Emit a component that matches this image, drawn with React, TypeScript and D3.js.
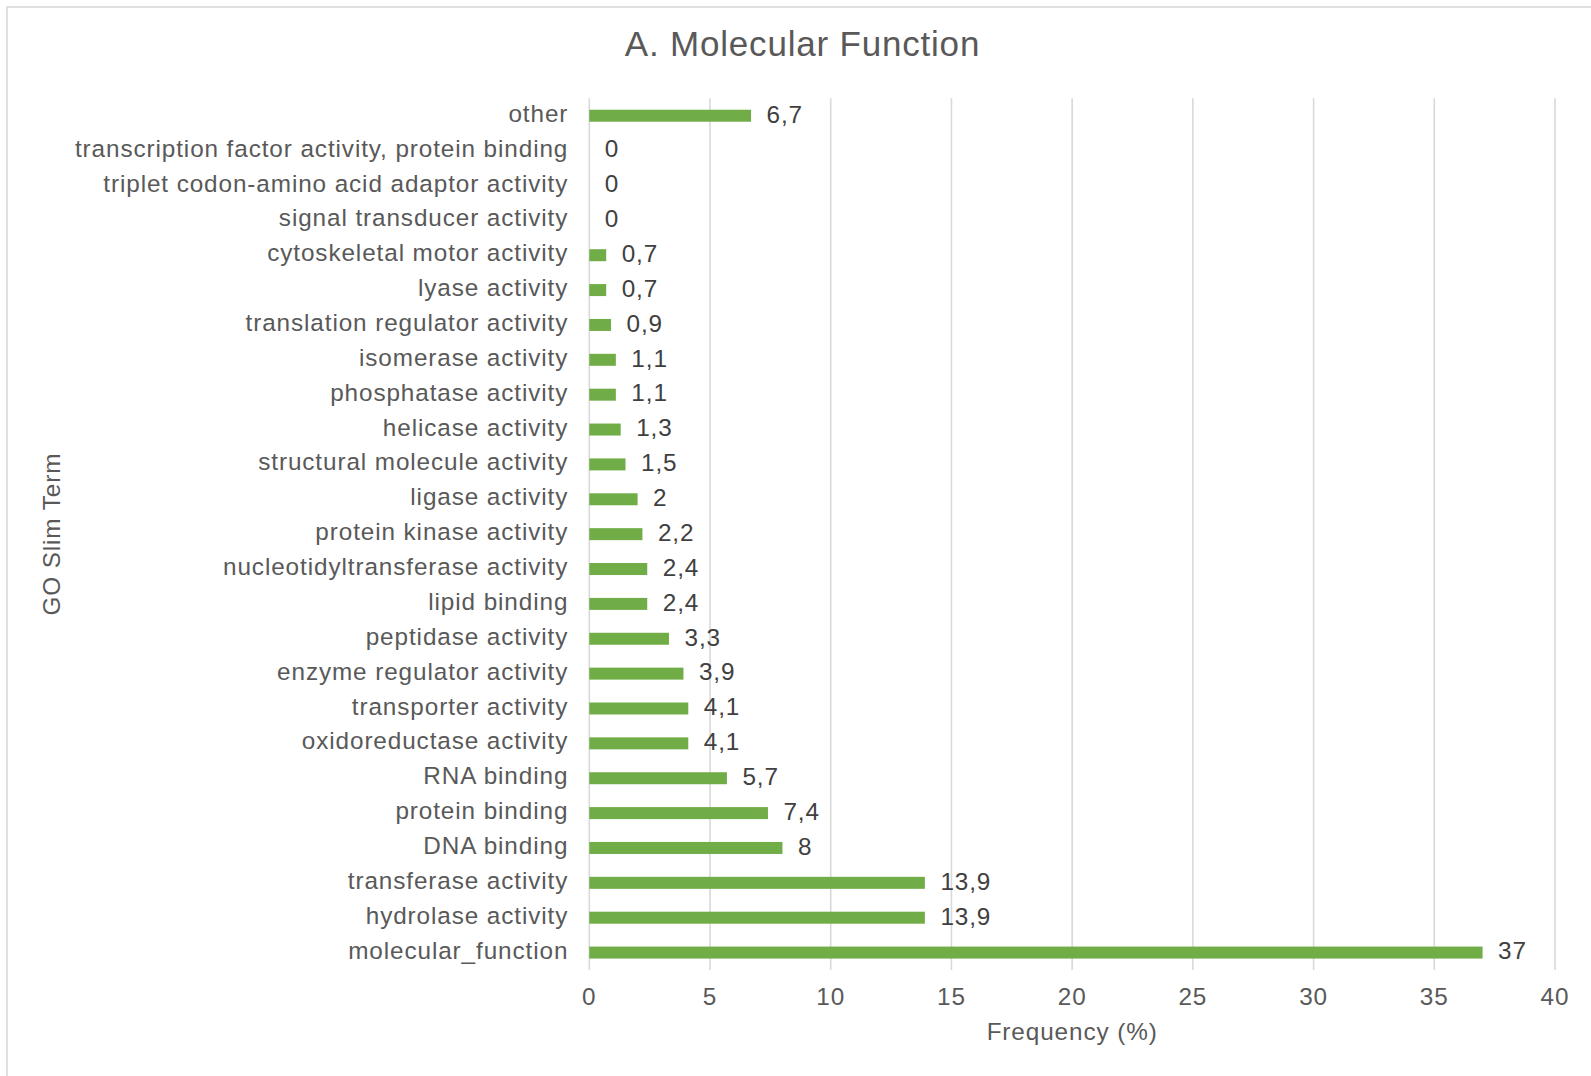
import React from "react";
import * as d3 from "d3";

// GO Slim terms, listed top to bottom as they appear on the chart
const categories: string[] = [
  "other",
  "transcription factor activity, protein binding",
  "triplet codon-amino acid adaptor activity",
  "signal transducer activity",
  "cytoskeletal motor activity",
  "lyase activity",
  "translation regulator activity",
  "isomerase activity",
  "phosphatase activity",
  "helicase activity",
  "structural molecule activity",
  "ligase activity",
  "protein kinase activity",
  "nucleotidyltransferase activity",
  "lipid binding",
  "peptidase activity",
  "enzyme regulator activity",
  "transporter activity",
  "oxidoreductase activity",
  "RNA binding",
  "protein binding",
  "DNA binding",
  "transferase activity",
  "hydrolase activity",
  "molecular_function",
];

// Frequency (%) for each term, same order as above
const frequencies: number[] = [
  6.7, 0, 0, 0, 0.7, 0.7, 0.9, 1.1, 1.1, 1.3, 1.5, 2, 2.2, 2.4, 2.4, 3.3, 3.9,
  4.1, 4.1, 5.7, 7.4, 8, 13.9, 13.9, 37,
];

const xTicks: number[] = [0, 5, 10, 15, 20, 25, 30, 35, 40];

const title = "A. Molecular Function";
const xTitle = "Frequency (%)";
const yTitle = "GO Slim Term";

const W = 1591;
const H = 1076;
const plot = { left: 589.3, right: 1555, top: 98.3, bottom: 970 };

const BAR = "#70AD47";
const GRID = "#D9D9D9";
const TEXT = "#595959";
const VALUE_TEXT = "#404040";
const FONT = "'Liberation Sans', Arial, Helvetica, sans-serif";

// Decimal comma, as in the source labels
const commaLocale = d3.formatLocale({
  decimal: ",",
  thousands: ".",
  grouping: [3],
  currency: ["", "€"],
});
const fmtValue = (v: number) => commaLocale.format("~g")(v);

export default function App() {
  const rows = categories.map((name, i) => ({ name, value: frequencies[i] }));

  const x = d3.scaleLinear().domain([0, 40]).range([plot.left, plot.right]);
  const y = d3
    .scaleBand<string>()
    .domain(categories)
    .range([plot.top, plot.bottom])
    .paddingInner(0.656)
    .paddingOuter(0.328);
  const bw = y.bandwidth();

  return (
    <svg
      width={W}
      height={H}
      style={{ position: "absolute", left: 0, top: 0, display: "block", background: "#fff" }}
      fontFamily={FONT}
    >
      <rect x={0} y={0} width={W} height={H} fill="#fff" />
      {/* chart area frame */}
      <rect x={7} y={7} width={W + 20} height={H + 20} fill="none" stroke={GRID} strokeWidth={1.6} />

      <text
        x={802.5}
        y={55.8}
        textAnchor="middle"
        fontSize={35}
        letterSpacing={0.8}
        fill={TEXT}
      >
        {title}
      </text>

      {/* vertical gridlines */}
      {xTicks.map((t) => (
        <line
          key={`g${t}`}
          x1={x(t)}
          x2={x(t)}
          y1={plot.top}
          y2={plot.bottom}
          stroke={GRID}
          strokeWidth={1.6}
        />
      ))}

      {/* bars */}
      {rows.map((r) => (
        <rect
          key={`b${r.name}`}
          x={x(0)}
          y={y(r.name)!}
          width={Math.max(0, x(r.value) - x(0))}
          height={bw}
          fill={BAR}
        />
      ))}

      {/* value labels */}
      {rows.map((r) => (
        <text
          key={`v${r.name}`}
          x={x(r.value) + 15.5}
          y={y(r.name)! + bw / 2}
          dy="0.28em"
          fontSize={24.3}
          letterSpacing={0.9}
          fill={VALUE_TEXT}
        >
          {fmtValue(r.value)}
        </text>
      ))}

      {/* category labels */}
      {rows.map((r) => (
        <text
          key={`c${r.name}`}
          x={plot.left - 21}
          y={y(r.name)! + bw / 2}
          dy="0.25em"
          textAnchor="end"
          fontSize={24.3}
          letterSpacing={0.9}
          fill={TEXT}
        >
          {r.name}
        </text>
      ))}

      {/* x tick labels */}
      {xTicks.map((t) => (
        <text
          key={`t${t}`}
          x={x(t)}
          y={1005}
          textAnchor="middle"
          fontSize={24.3}
          letterSpacing={0.9}
          fill={TEXT}
        >
          {t}
        </text>
      ))}

      <text
        x={(plot.left + plot.right) / 2}
        y={1040}
        textAnchor="middle"
        fontSize={24.3}
        letterSpacing={0.9}
        fill={TEXT}
      >
        {xTitle}
      </text>

      <text
        transform={`translate(60, ${(plot.top + plot.bottom) / 2}) rotate(-90)`}
        textAnchor="middle"
        fontSize={24.3}
        letterSpacing={0.9}
        fill={TEXT}
      >
        {yTitle}
      </text>
    </svg>
  );
}
